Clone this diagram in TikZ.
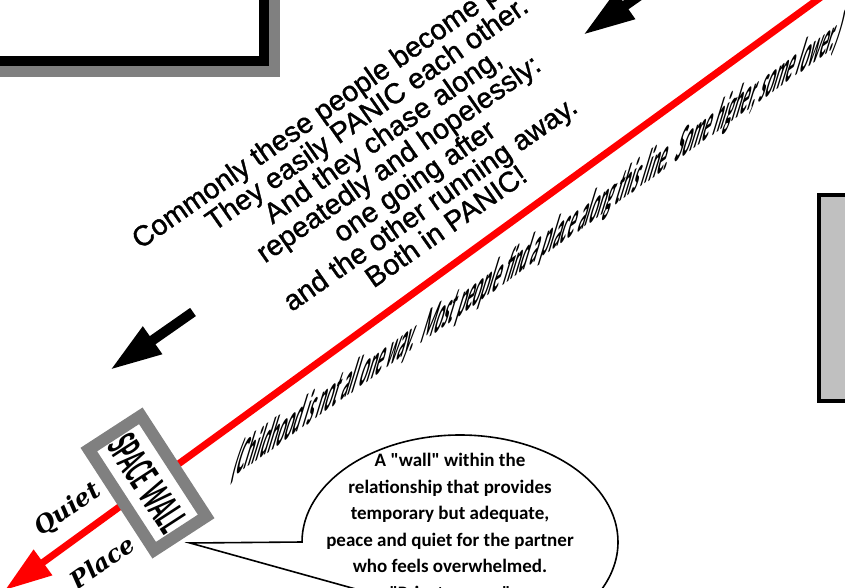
\documentclass[tikz,border=0pt]{standalone}
\usepackage{fontspec}
\usepackage{graphicx}
\setmainfont{Liberation Sans}
\newfontfamily\panfont{Liberation Sans}[FakeBold=1.2]
\newfontfamily\comicfont{Carlito}
\newfontfamily\quietfont{DejaVu Serif}
\usetikzlibrary{arrows.meta}
\definecolor{lnred}{HTML}{FF0000}
\definecolor{shgray}{HTML}{808080}
\definecolor{boxgray}{HTML}{C0C0C0}

\begin{document}
\begin{tikzpicture}[
    x=1pt,y=-1pt,
    blk/.style  = {-{Triangle[length=52pt,width=31pt]},line width=10pt,black},
    rl/.style   = {-{Triangle[length=47pt,width=30pt]},line width=7pt,lnred},
    wl/.style   = {rectangle,draw=shgray,line width=12pt,fill=white,
                   minimum width=120pt,minimum height=62pt,inner sep=0pt},
    pan/.style  = {align=center,inner sep=0pt,font=\panfont\fontsize{28.5}{27.6}\selectfont},
    qp/.style   = {inner sep=0pt,font=\quietfont\bfseries\itshape\fontsize{24}{24}\selectfont},
    bub/.style  = {align=center,inner sep=0pt,font=\comicfont\bfseries\fontsize{19}{26.5}\selectfont},
    slt/.style  = {inner sep=0pt,anchor=base west,cm={0.814,0.581,0.292,0.956,(0,0)}},
  ]
  \useasboundingbox (0,0) rectangle (845,588);
  \clip (0,0) rectangle (845,588);

  % boxes cut by the frame
  \fill[shgray] (-30,-30) rectangle (280,77);
  \draw[line width=10pt,fill=white] (-40,-40) rectangle (264,61);
  \draw[line width=4pt,fill=boxgray] (819,195) rectangle (900,401);

  % black arrows
  \coordinate (a1s) at (673,-28);
  \coordinate (a1t) at (583,35);
  \coordinate (a2s) at (193,312);
  \coordinate (a2t) at (110,370);
  \draw[blk] (a1s) -- (a1t);
  \draw[blk] (a2s) -- (a2t);

  % the red line
  \coordinate (rs) at (850,-24);
  \coordinate (rt) at (5,590);
  \draw[rl] (rs) -- (rt);

  \node[pan,rotate=35] (panic) at (398,158) {Commonly these people become panicky.\\
    They easily PANIC each other.\\And they chase along,\\repeatedly and hopelessly:\\
    one going after\\and the other running away.\\Both in PANIC!};

  \node[slt] (child) at (230,480) {\comicfont\bfseries\resizebox{746pt}{42pt}{(Childhood
    is not all one way.\ \ Most people find a place along this line.\ \ Some higher, some lower.)}};

  \node[wl,rotate=-57] (wall) at (147.5,483) {\comicfont\bfseries\resizebox{106pt}{30pt}{SPACE WALL}};
  \node[qp,rotate=35] (quiet) at (68,510) {Quiet};
  \node[qp,rotate=35] (place) at (102,562) {Place};

  % callout
  \coordinate (tip) at (190,543);
  \coordinate (bA) at (302,542);
  \coordinate (bB) at (433,610.5);
  \draw[line width=1.6pt,fill=white] (tip) -- (bA)
    arc[start angle=180,end angle=420,x radius=158,y radius=107] -- (bB) -- cycle;
  \node[bub] (bubtxt) at (450,528) {A "wall" within the\\relationship that provides\\
    temporary but adequate,\\peace and quiet for the partner\\who feels overwhelmed.\\
    "Private space"};

\end{tikzpicture}
\end{document}
